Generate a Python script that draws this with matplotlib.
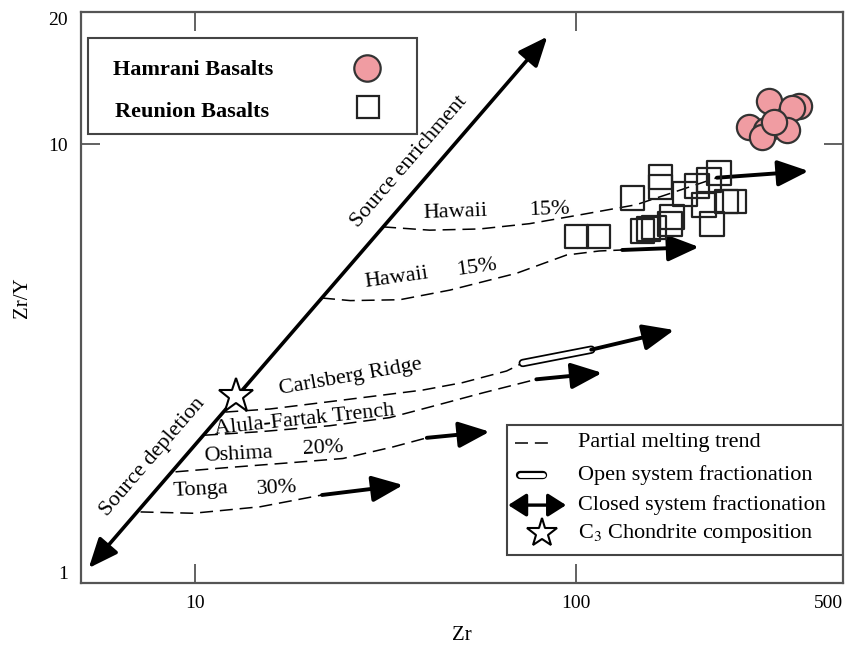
import numpy as np
import matplotlib.pyplot as plt
import matplotlib.patheffects as pe
from matplotlib.patches import Rectangle

plt.rcParams['font.family'] = ['Liberation Serif', 'DejaVu Serif']
plt.rcParams['mathtext.fontset'] = 'stix'

# Hamrani basalts
ham_zr = [383.5, 320.0, 367.6, 283.8, 314.2, 306.9, 356.5, 329.7]
ham_zry = [12.23, 12.56, 12.10, 10.95, 10.78, 10.39, 10.78, 11.24]

# Reunion basalts
reu_zr = [100.0, 114.2, 140.3, 166.0, 166.0, 148.9, 154.3, 159.9, 176.2,
          178.2, 192.8, 207.3, 216.4, 223.0, 236.6, 248.3, 260.6, 227.1]
reu_zry = [6.15, 6.15, 7.54, 8.42, 7.99, 6.34, 6.41, 6.45, 6.58,
           6.83, 7.70, 8.03, 7.27, 8.29, 8.60, 7.39, 7.39, 6.58]

# source enrichment / depletion line and C3 chondrite
src_zr = [5.25, 83.9]
src_zry = [1.08, 17.6]
chon_zr = [12.8]
chon_zry = [2.67]

# partial melting trends
haw1_zr = [31.1, 41.2, 55.7, 75.3, 103.8, 143.5, 178.2, 233.7]
haw1_zry = [6.48, 6.37, 6.41, 6.59, 6.92, 7.28, 7.75, 8.39]
haw2_zr = [21.5, 25.5, 34.4, 46.6, 69.7, 94.2, 114.8, 131.9]
haw2_zry = [4.46, 4.40, 4.42, 4.65, 5.08, 5.59, 5.71, 5.74]
carl_zr = [11.98, 15.7, 24.4, 39.5, 50.3, 65.6, 72.3]
carl_zry = [2.45, 2.49, 2.61, 2.75, 2.86, 3.04, 3.17]
alula_zr = [10.6, 14.8, 22.5, 32.4, 43.0, 56.8, 78.5]
alula_zry = [2.17, 2.21, 2.28, 2.38, 2.54, 2.71, 2.91]
oshima_zr = [8.87, 12.1, 18.1, 24.4, 33.0, 40.5]
oshima_zry = [1.79, 1.83, 1.88, 1.92, 2.04, 2.14]
tonga_zr = [7.18, 9.88, 14.8, 21.5]
tonga_zry = [1.45, 1.44, 1.49, 1.585]
trends = [(haw1_zr, haw1_zry), (haw2_zr, haw2_zry), (carl_zr, carl_zry),
          (alula_zr, alula_zry), (oshima_zr, oshima_zry), (tonga_zr, tonga_zry)]

# open system fractionation (Carlsberg)
open_zr = [72.3, 109.4]
open_zry = [3.17, 3.40]

# closed system fractionation arrows: (start, end)
arrows = [((233.7, 8.39), (407.0, 8.69)),
          ((131.9, 5.74), (209.9, 5.83)),
          ((109.4, 3.40), (180.6, 3.77)),
          ((78.5, 2.91), (116.9, 3.01)),
          ((40.5, 2.14), (59.2, 2.21)),
          ((21.5, 1.585), (35.1, 1.67))]

# labels (text, zr, zr/y, rotation)
labels = [('Hawaii', 48.0, 7.01, 2), ('15%', 84.9, 7.08, 2),
          ('Hawaii', 33.8, 4.95, 8), ('15%', 54.7, 5.22, 8),
          ('Carlsberg Ridge', 25.5, 2.95, 10),
          ('Alula-Fartak Trench', 19.3, 2.35, 6),
          ('Oshima', 12.96, 1.955, 3), ('20%', 21.6, 2.02, 3),
          ('Tonga', 10.3, 1.63, 3), ('30%', 16.4, 1.64, 3),
          ('Source enrichment', 36.5, 9.11, 49.2),
          ('Source depletion', 7.72, 1.935, 49.2)]

pink = '#f09ca2'
edge = '#333333'
dash = (0, (8.5, 4.5))
fs = 16

fig = plt.figure(figsize=(8.62, 6.49), dpi=100)
ax = fig.add_axes([0.0936, 0.1022, 0.884, 0.8788])
ax.set_xscale('log')
ax.set_yscale('log')
ax.set_xlim(5, 500)
ax.set_ylim(1, 20)

for x, y in trends:
    ax.plot(x, y, color='black', lw=1.1, ls=dash)

ax.annotate('', xy=(src_zr[1], src_zry[1]), xytext=(src_zr[0], src_zry[0]),
            arrowprops=dict(arrowstyle='<|-|>,head_length=0.9,head_width=0.38',
                            lw=2.6, color='black', shrinkA=0, shrinkB=0,
                            mutation_scale=20))

for (x0, y0), (x1, y1) in arrows:
    ax.annotate('', xy=(x1, y1), xytext=(x0, y0),
                arrowprops=dict(arrowstyle='-|>,head_length=0.95,head_width=0.4',
                                lw=2.8, color='black', shrinkA=0, shrinkB=0,
                                mutation_scale=20))

ax.plot(open_zr, open_zry, color='white', lw=3.5, solid_capstyle='round',
        path_effects=[pe.Stroke(linewidth=6, foreground='black'), pe.Normal()])

ax.scatter(reu_zr, reu_zry, marker='s', s=280, facecolors='none',
           edgecolors='#222222', linewidths=1.6, zorder=4)
ax.scatter(ham_zr, ham_zry, marker='o', s=330, facecolors=pink,
           edgecolors=edge, linewidths=1.6, zorder=5)

ax.plot(chon_zr, chon_zry, marker='*', ms=26, mfc='white', mec='black',
        mew=1.5, ls='none', zorder=6)

for t, x, y, r in labels:
    ax.text(x, y, t, fontsize=fs, rotation=r, ha='center', va='center',
            rotation_mode='anchor')

# legend: samples
ax.add_patch(Rectangle((0.0096, 0.787), 0.4314, 0.168, transform=ax.transAxes,
                       fill=False, ec='#444444', lw=1.5))
ax.text(0.0424, 0.899, 'Hamrani Basalts', transform=ax.transAxes, fontsize=fs,
        fontweight='bold', va='center')
ax.text(0.045, 0.825, 'Reunion Basalts', transform=ax.transAxes, fontsize=fs,
        fontweight='bold', va='center')
ax.plot([0.376], [0.902], 'o', transform=ax.transAxes, ms=19, mfc=pink,
        mec=edge, mew=1.6)
ax.plot([0.377], [0.834], 's', transform=ax.transAxes, ms=16.5, mfc='white',
        mec='#222222', mew=1.6)

# legend: processes
ax.add_patch(Rectangle((0.5594, 0.0486), 0.4406, 0.228, transform=ax.transAxes,
                       fill=False, ec='#444444', lw=1.5))
ax.plot([0.570, 0.613], [0.245, 0.245], transform=ax.transAxes, color='black',
        lw=1.1, ls=dash)
ax.plot([0.577, 0.607], [0.189, 0.189], transform=ax.transAxes, color='white',
        lw=3.5, solid_capstyle='round',
        path_effects=[pe.Stroke(linewidth=6, foreground='black'), pe.Normal()])
ax.annotate('', xy=(0.637, 0.136), xytext=(0.561, 0.136), xycoords='axes fraction',
            arrowprops=dict(arrowstyle='<|-|>,head_length=0.55,head_width=0.35',
                            lw=2.4, color='black', shrinkA=0, shrinkB=0,
                            mutation_scale=20))
ax.plot([0.605], [0.087], marker='*', transform=ax.transAxes, ms=22, mfc='white',
        mec='black', mew=1.5)
legend_items = ['Partial melting trend', 'Open system fractionation',
                'Closed system fractionation', 'C$_3$ Chondrite composition']
for i, t in enumerate(legend_items):
    ax.text(0.652, [0.245, 0.189, 0.136, 0.087][i], t, transform=ax.transAxes,
            fontsize=fs, va='center')

ax.set_xticks([10, 100, 500])
ax.set_xticklabels(['10', '100', '500'])
ax.set_yticks([1, 10, 20])
ax.set_yticklabels(['1', '10', '20'])
ax.minorticks_off()
ax.tick_params(direction='in', length=14, width=1.3, color='#555555',
               labelsize=14, pad=9, top=True, right=True)
ax.get_xticklabels()[-1].set_ha('right')
ax.get_yticklabels()[-1].set_va('top')
ax.get_yticklabels()[0].set_va('bottom')
for s in ax.spines.values():
    s.set_color('#555555')
    s.set_linewidth(1.6)
ax.set_xlabel('Zr', fontsize=15, labelpad=10)
ax.set_ylabel('Zr/Y', fontsize=15, labelpad=12)

fig.savefig('out.png', dpi=100)
